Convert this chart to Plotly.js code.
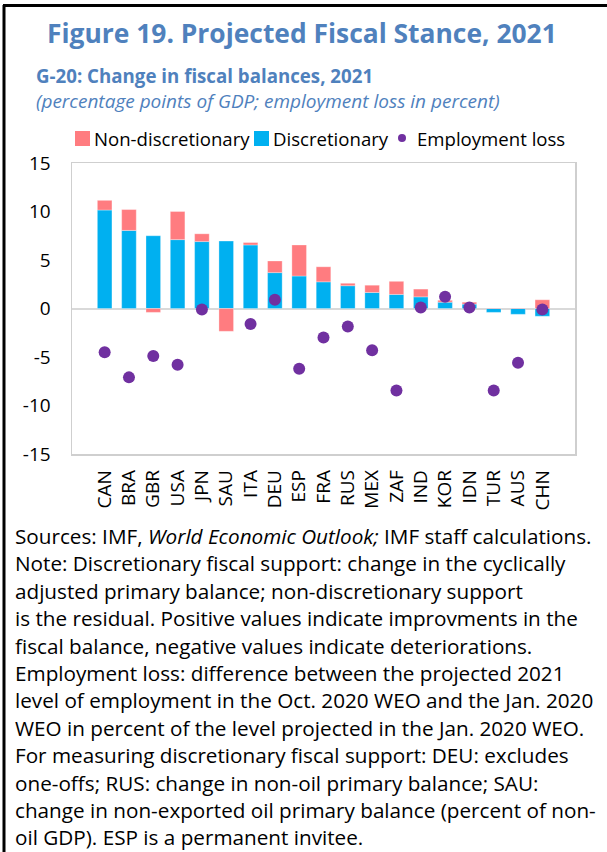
<!DOCTYPE html>
<html>
<head>
<meta charset="utf-8">
<script src="https://cdn.plot.ly/plotly-3.0.1.min.js"></script>
<style>
  html, body { margin: 0; padding: 0; background: #fff; overflow: hidden; }
  #chart { width: 607px; height: 852px; }
</style>
</head>
<body>
<div id="chart"></div>
<script>
// G-20 economies, ordered by discretionary fiscal change
const countries = ['CAN','BRA','GBR','USA','JPN','SAU','ITA','DEU','ESP','FRA','RUS','MEX','ZAF','IND','KOR','IDN','TUR','AUS','CHN'];

// Change in fiscal balances, 2021 (percentage points of GDP)
const discretionary    = [10.15, 8.05, 7.5, 7.1, 6.9, 6.95, 6.55, 3.7, 3.35, 2.75, 2.35, 1.65, 1.45, 1.2, 0.65, 0.45, -0.4, -0.6, -0.8];
const nonDiscretionary = [1.0, 2.15, -0.4, 2.9, 0.8, -2.35, 0.25, 1.2, 3.2, 1.55, 0.25, 0.75, 1.35, 0.8, 0.2, 0.2, 0.05, 0.05, 0.9];

// Employment loss (percent); no figure for SAU
const employmentLoss = [-4.5, -7.1, -4.9, -5.8, -0.1, null, -1.6, 0.9, -6.2, -3.0, -1.85, -4.3, -8.45, 0.1, 1.2, 0.1, -8.45, -5.6, -0.1];

const yTicks = [-15, -10, -5, 0, 5, 10, 15];

const noteLines = [
  'Sources: IMF, <i>World Economic Outlook;</i> IMF staff calculations.',
  'Note: Discretionary fiscal support: change in the cyclically',
  'adjusted primary balance; non-discretionary support',
  'is the residual. Positive values indicate improvments in the',
  'fiscal balance, negative values indicate deteriorations.',
  'Employment loss: difference between the projected 2021',
  'level of employment in the Oct. 2020 WEO and the Jan. 2020',
  'WEO in percent of the level projected in the Jan. 2020 WEO.',
  'For measuring discretionary fiscal support: DEU: excludes',
  'one-offs; RUS: change in non-oil primary balance; SAU:',
  'change in non-exported oil primary balance (percent of non-',
  'oil GDP). ESP is a permanent invitee.'
];

const FONT = 'Open Sans, Noto Sans, sans-serif';
const BLUE_TEXT = '#4F81BD';

// page layout in pixels -> paper fractions
const W = 607, H = 852;
const PL = 72, PR = 575, PT = 163, PB = 454;
const px = x => (x - PL) / (PR - PL);
const py = y => (PB - y) / (PB - PT);

const traces = [
  {
    type: 'bar', name: 'Discretionary', x: countries, y: discretionary,
    marker: { color: '#00B0F0', line: { color: 'rgba(255,255,255,0.6)', width: 0.5 } },
    showlegend: false, hoverinfo: 'skip'
  },
  {
    type: 'bar', name: 'Non-discretionary', x: countries, y: nonDiscretionary,
    marker: { color: '#FF7C80', line: { color: 'rgba(255,255,255,0.6)', width: 0.5 } },
    showlegend: false, hoverinfo: 'skip'
  },
  {
    type: 'scatter', mode: 'markers', name: 'Employment loss', x: countries, y: employmentLoss,
    marker: { color: '#7030A0', size: 12 },
    showlegend: false, hoverinfo: 'skip'
  }
];

const annotations = [
  { text: '<b>Figure 19. Projected Fiscal Stance, 2021</b>', x: px(302), y: py(33),
    font: { size: 26.4, color: BLUE_TEXT, family: FONT }, xanchor: 'center', align: 'center' },
  { text: '<b>G-20: Change in fiscal balances, 2021</b>', x: px(34), y: py(76),
    font: { size: 18.7, color: BLUE_TEXT, family: FONT }, xanchor: 'left' },
  { text: '<i>(percentage points of GDP; employment loss in percent)</i>', x: px(34), y: py(101),
    font: { size: 19, color: BLUE_TEXT, family: FONT }, xanchor: 'left' },
  // legend labels
  { text: 'Non-discretionary', x: px(92), y: py(138), font: { size: 18.6, color: '#000', family: FONT }, xanchor: 'left' },
  { text: 'Discretionary', x: px(271), y: py(138), font: { size: 18.6, color: '#000', family: FONT }, xanchor: 'left' },
  { text: 'Employment loss', x: px(415), y: py(138), font: { size: 18.6, color: '#000', family: FONT }, xanchor: 'left' }
];

noteLines.forEach((t, i) => {
  annotations.push({
    text: t, x: px(13), y: py(536 + i * 27.4), xanchor: 'left',
    font: { size: 20.7, color: '#000', family: FONT }
  });
});
annotations.forEach(a => {
  a.xref = 'paper'; a.yref = 'paper'; a.yanchor = 'middle'; a.showarrow = false;
  if (!a.align) a.align = 'left';
});

const shapes = [
  // figure frame (left and top rules)
  { type: 'line', xref: 'paper', yref: 'paper', x0: px(4), x1: px(4), y0: py(5), y1: py(860), line: { color: '#000', width: 3 } },
  { type: 'line', xref: 'paper', yref: 'paper', x0: px(3), x1: px(607), y0: py(5.5), y1: py(5.5), line: { color: '#000', width: 3 } },
  // legend keys
  { type: 'rect', xref: 'paper', yref: 'paper', x0: px(75), x1: px(90), y0: py(131), y1: py(146), fillcolor: '#FF7C80', line: { width: 0 } },
  { type: 'rect', xref: 'paper', yref: 'paper', x0: px(254), x1: px(269), y0: py(131), y1: py(146), fillcolor: '#00B0F0', line: { width: 0 } },
  { type: 'circle', xref: 'paper', yref: 'paper', x0: px(398), x1: px(406), y0: py(134), y1: py(142), fillcolor: '#7030A0', line: { width: 0 } }
];

const layout = {
  width: W, height: H,
  margin: { l: PL, r: W - PR, t: PT, b: H - PB, pad: 0 },
  paper_bgcolor: '#fff', plot_bgcolor: '#fff',
  barmode: 'relative', bargap: 0.4,
  showlegend: false,
  font: { family: FONT, color: '#000' },
  xaxis: {
    type: 'category', tickangle: -90, tickfont: { size: 19, family: FONT, color: '#000' },
    showgrid: false, ticks: '', ticklabelstandoff: 7,
    showline: true, mirror: true, linecolor: '#CFCFCF', linewidth: 1.5,
    fixedrange: true
  },
  yaxis: {
    range: [-15, 15], tickvals: yTicks, ticktext: yTicks.map(String),
    tickfont: { size: 19, family: FONT, color: '#000' }, ticks: '', ticklen: 0, ticklabelstandoff: 16,
    showgrid: false, zeroline: true, zerolinecolor: '#D9D9D9', zerolinewidth: 2,
    showline: true, mirror: true, linecolor: '#CFCFCF', linewidth: 1.5, fixedrange: true
  },
  annotations, shapes
};

Plotly.newPlot('chart', traces, layout, { staticPlot: true, displayModeBar: false });
</script>
</body>
</html>
